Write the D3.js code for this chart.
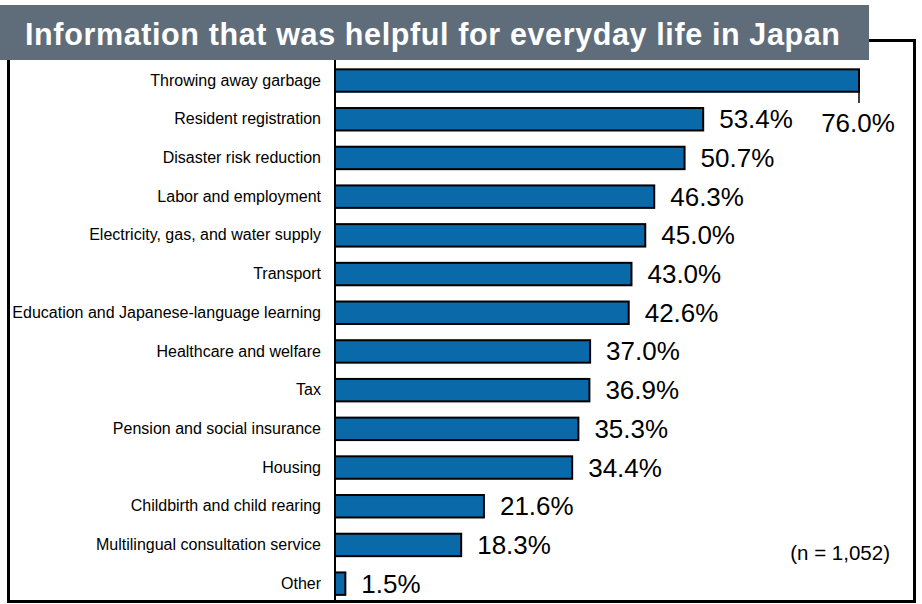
<!DOCTYPE html>
<html>
<head>
<meta charset="utf-8">
<script src="https://cdn.jsdelivr.net/npm/d3@7"></script>
<style>
  html, body { margin: 0; padding: 0; background: #fff; }
  svg { display: block; font-family: "Liberation Sans", Arial, sans-serif; }
</style>
</head>
<body>
<svg id="chart" width="922" height="604"></svg>
<script>
// Survey items and share of respondents (%)
const categories = [
  "Throwing away garbage",
  "Resident registration",
  "Disaster risk reduction",
  "Labor and employment",
  "Electricity, gas, and water supply",
  "Transport",
  "Education and Japanese-language learning",
  "Healthcare and welfare",
  "Tax",
  "Pension and social insurance",
  "Housing",
  "Childbirth and child rearing",
  "Multilingual consultation service",
  "Other"
];
const values = [76.0, 53.4, 50.7, 46.3, 45.0, 43.0, 42.6, 37.0, 36.9, 35.3, 34.4, 21.6, 18.3, 1.5];
const valueLabels = values.map(v => v.toFixed(1) + "%");
const titleText = "Information that was helpful for everyday life in Japan";
const noteText = "(n = 1,052)";

const svg = d3.select("#chart");

const x = d3.scaleLinear().domain([0, 76]).range([335, 859]);
const y = d3.scaleBand()
  .domain(categories)
  .range([61.2, 603])
  .paddingInner(0.42)
  .paddingOuter(0.21);

// Frame around the plot
svg.append("path")
  .attr("d", "M8.5,30 V601.5 H914.5 V40.5 H840")
  .attr("fill", "none")
  .attr("stroke", "#000")
  .attr("stroke-width", 3);

// Title banner
svg.append("rect")
  .attr("x", 0).attr("y", 5)
  .attr("width", 869).attr("height", 55)
  .attr("fill", "#5f6d7b");
svg.append("text")
  .attr("x", 25).attr("y", 45)
  .attr("fill", "#fff")
  .attr("font-weight", "bold")
  .attr("font-size", 30.5)
  .attr("textLength", 815)
  .attr("lengthAdjust", "spacing")
  .text(titleText);

// Bars
svg.append("g").selectAll("rect")
  .data(categories)
  .join("rect")
  .attr("x", x(0))
  .attr("y", d => y(d))
  .attr("width", (d, i) => x(values[i]) - x(0))
  .attr("height", y.bandwidth())
  .attr("fill", "#0a6aa9")
  .attr("stroke", "#000")
  .attr("stroke-width", 2);

// Category axis
const axis = svg.append("g")
  .attr("transform", `translate(${x(0)},0)`)
  .call(d3.axisLeft(y).tickSize(0).tickPadding(14));
axis.select(".domain").remove();
axis.selectAll("text")
  .attr("font-size", 16)
  .attr("font-family", "'Liberation Sans', Arial, sans-serif")
  .attr("fill", "#000");
svg.append("line")
  .attr("x1", x(0)).attr("x2", x(0))
  .attr("y1", 60).attr("y2", 601)
  .attr("stroke", "#000")
  .attr("stroke-width", 2);

// Value labels; the longest bar gets its label below the bar end with a leader line
const labels = svg.append("g");
categories.forEach((c, i) => {
  const cy = y(c) + y.bandwidth() / 2;
  if (i === 0) {
    labels.append("line")
      .attr("x1", x(values[i])).attr("x2", x(values[i]))
      .attr("y1", y(c) + y.bandwidth()).attr("y2", 103)
      .attr("stroke", "#000").attr("stroke-width", 1.5);
    labels.append("text")
      .attr("x", x(values[i]) - 1)
      .attr("y", 132)
      .attr("text-anchor", "middle")
      .attr("font-size", 26)
      .attr("fill", "#000")
      .text(valueLabels[i]);
  } else {
    labels.append("text")
      .attr("x", x(values[i]) + 16)
      .attr("y", cy + 9)
      .attr("font-size", 26)
      .attr("fill", "#000")
      .text(valueLabels[i]);
  }
});

// Sample size note
svg.append("text")
  .attr("x", 890).attr("y", 560)
  .attr("text-anchor", "end")
  .attr("font-size", 20.5)
  .attr("fill", "#000")
  .text(noteText);
</script>
</body>
</html>
